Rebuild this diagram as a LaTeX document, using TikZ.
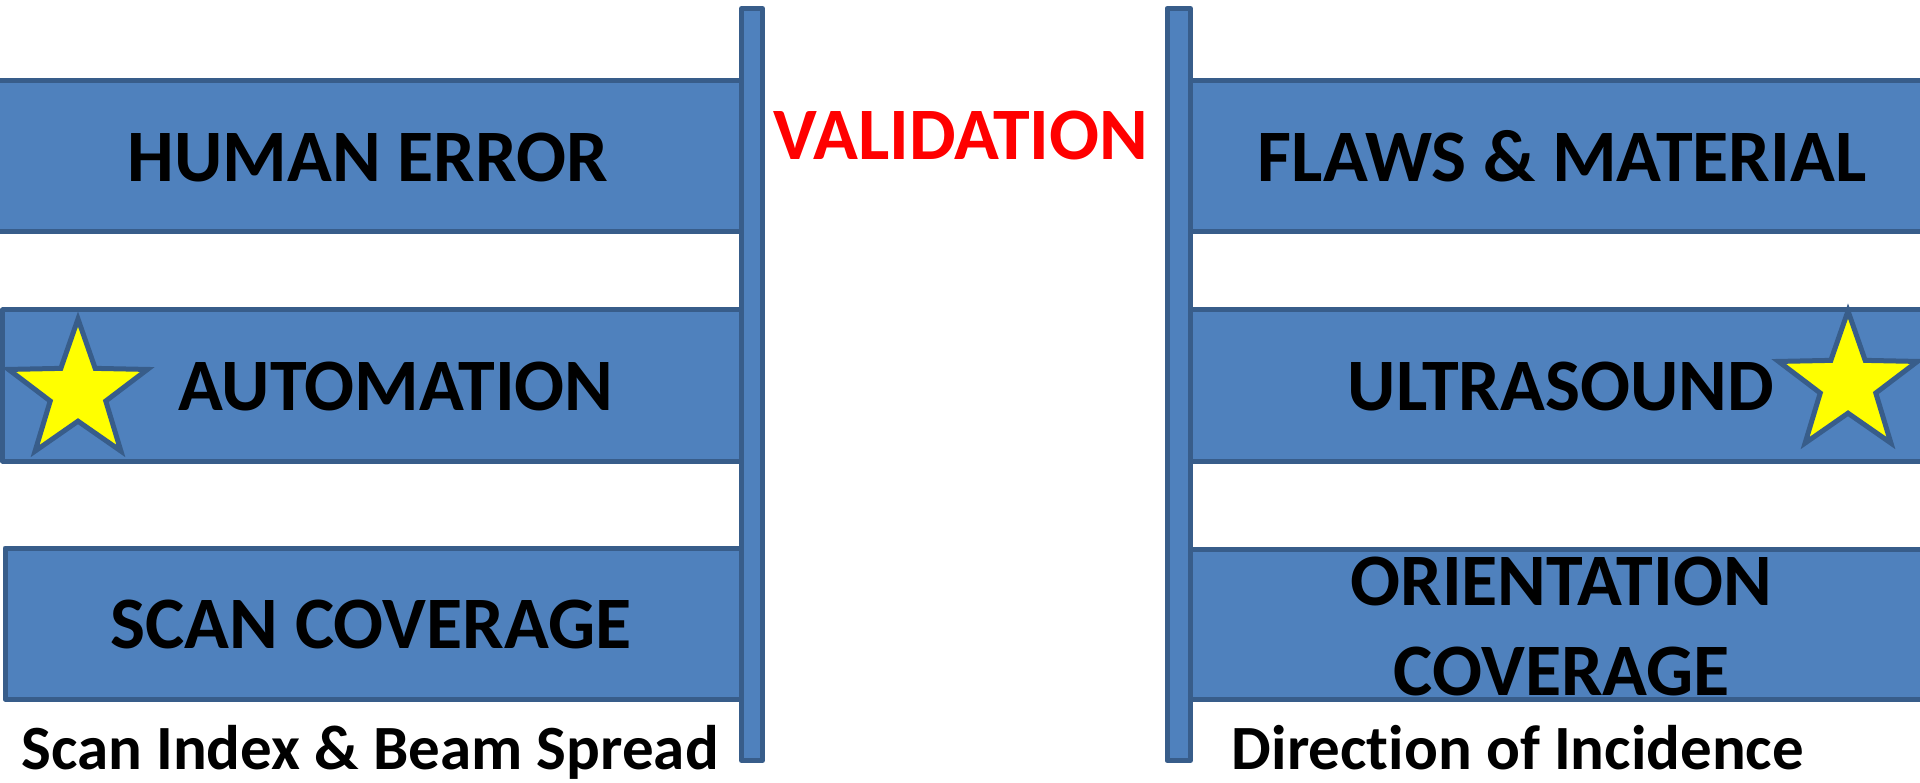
\documentclass[tikz,border=0pt]{standalone}
\usepackage{fontspec}
\setmainfont{Carlito}[Ligatures=NoCommon]
\usetikzlibrary{shapes.geometric}
\definecolor{panelblue}{HTML}{4F81BD}
\definecolor{edgeblue}{HTML}{385D8A}
\definecolor{starfill}{HTML}{FFFF00}
\definecolor{titlered}{HTML}{FF0000}

\begin{document}
\begin{tikzpicture}[x=1pt,y=-1pt,
  panel/.style={fill=panelblue, draw=edgeblue, line width=5pt, line join=round},
  caption/.style={font=\bfseries\fontsize{74}{90}\selectfont, text=black, inner sep=0pt, anchor=base},
  note/.style={font=\bfseries\fontsize{63}{76}\selectfont, text=black, inner sep=0pt, anchor=base},
  badge/.style={star, star points=5, star point ratio=2.5, minimum size=146pt, inner sep=0pt,
                fill=starfill, draw=edgeblue, line width=5pt}]
\useasboundingbox (0,0) rectangle (1920,783);
\clip (0,0) rectangle (1920,783);

% left column: panels behind the post
\draw[panel] (-20,80.5) rectangle (752,231.5);
\draw[panel] (5,548) rectangle (752,699);
% left post
\draw[panel] (741.5,8.5) rectangle (762.5,760.5);
% middle panel on the left sits over the post
\draw[panel] (2.5,310) rectangle (741.5,461);

% right column panels, then the post over them
\draw[panel] (1180,80.5) rectangle (1940,231.5);
\draw[panel] (1180,310) rectangle (1940,461);
\draw[panel] (1180,549) rectangle (1940,699);
\draw[panel] (1167,8.5) rectangle (1190.5,760.5);

% stars
\node[badge] (starL) at (78,392) {};
\node[badge] (starR) at (1848,384) {};

% labels
\node[caption] (human) at (368,182) {HUMAN ERROR};
\node[caption] (auto) at (396,411) {AUTOMATION};
\node[caption] (scan) at (371,648) {SCAN COVERAGE};
\node[caption, text=titlered] (valid) at (961,160) {VALIDATION};
\node[caption] (flaws) at (1562,182) {FLAWS \& MATERIAL};
\node[caption] (ultra) at (1561,411) {ULTRASOUND};
\node[caption] (orient) at (1561,605) {ORIENTATION};
\node[caption] (cover) at (1562,695) {COVERAGE};
\node[note] (index) at (370,769) {Scan Index \& Beam Spread};
\node[note] (incid) at (1518,769) {Direction of Incidence};
\end{tikzpicture}
\end{document}
